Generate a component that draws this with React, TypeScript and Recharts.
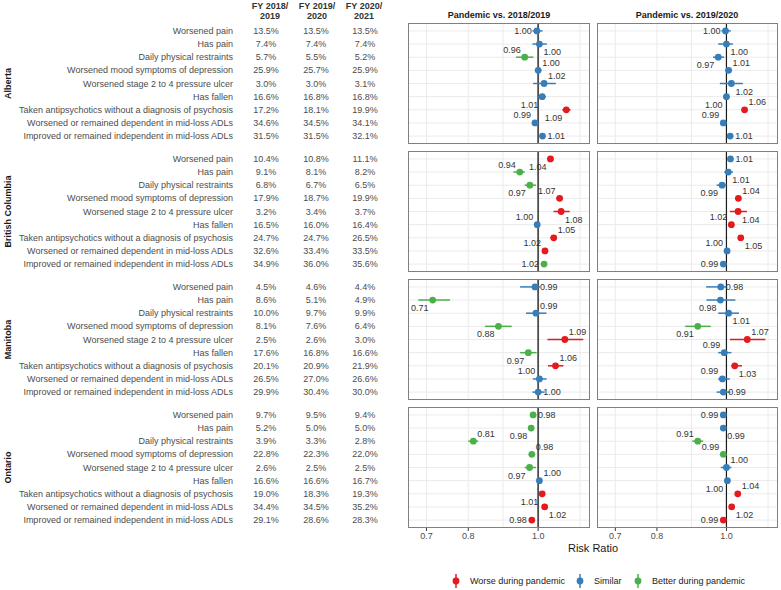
import React from 'react';
import { ScatterChart, Scatter, XAxis, YAxis, ErrorBar, ReferenceLine, CartesianGrid } from 'recharts';

const INDICATORS = [
  'Worsened pain',
  'Has pain',
  'Daily physical restraints',
  'Worsened mood symptoms of depression',
  'Worsened stage 2 to 4 pressure ulcer',
  'Has fallen',
  'Taken antipsychotics without a diagnosis of psychosis',
  'Worsened or remained dependent in mid-loss ADLs',
  'Improved or remained independent in mid-loss ADLs',
];
const PROVINCES = ['Alberta', 'British Columbia', 'Manitoba', 'Ontario'];
const YEAR_HEADS = [['FY 2018/', '2019'], ['FY 2019/', '2020'], ['FY 2020/', '2021']];
const PANEL_TITLES = ['Pandemic vs. 2018/2019', 'Pandemic vs. 2019/2020'];
const X_TICKS = [0.7, 0.8, 1.0];
const GRID_X = [0.7, 0.748, 0.8, 0.894, 1.0, 1.069, 1.143];

// indicator rates (%), per fiscal year
const AB_RATES = [[13.5, 13.5, 13.5], [7.4, 7.4, 7.4], [5.7, 5.5, 5.2], [25.9, 25.7, 25.9], [3.0, 3.0, 3.1], [16.6, 16.8, 16.8], [17.2, 18.1, 19.9], [34.6, 34.5, 34.1], [31.5, 31.5, 32.1]];
const BC_RATES = [[10.4, 10.8, 11.1], [9.1, 8.1, 8.2], [6.8, 6.7, 6.5], [17.9, 18.7, 19.9], [3.2, 3.4, 3.7], [16.5, 16.0, 16.4], [24.7, 24.7, 26.5], [32.6, 33.4, 33.5], [34.9, 36.0, 35.6]];
const MB_RATES = [[4.5, 4.6, 4.4], [8.6, 5.1, 4.9], [10.0, 9.7, 9.9], [8.1, 7.6, 6.4], [2.5, 2.6, 3.0], [17.6, 16.8, 16.6], [20.1, 20.9, 21.9], [26.5, 27.0, 26.6], [29.9, 30.4, 30.0]];
const ON_RATES = [[9.7, 9.5, 9.4], [5.2, 5.0, 5.0], [3.9, 3.3, 2.8], [22.8, 22.3, 22.0], [2.6, 2.5, 2.5], [16.6, 16.6, 16.7], [19.0, 18.3, 19.3], [34.4, 34.5, 35.2], [29.1, 28.6, 28.3]];

// risk ratio: [estimate, ci low, ci high, W=worse / S=similar / B=better]
const AB_18 = [[0.996, 0.982, 1.014, 'S'], [1.004, 0.982, 1.028, 'S'], [0.958, 0.932, 0.985, 'B'], [1.0, 0.99, 1.01, 'S'], [1.019, 0.984, 1.058, 'S'], [1.013, 0.998, 1.025, 'S'], [1.094, 1.08, 1.109, 'W'], [0.99, 0.98, 1.0, 'S'], [1.014, 1.005, 1.022, 'S']];
const AB_19 = [[0.997, 0.984, 1.014, 'S'], [1.0, 0.974, 1.021, 'S'], [0.974, 0.958, 0.993, 'S'], [1.007, 0.997, 1.017, 'S'], [1.016, 0.979, 1.054, 'S'], [1.0, 0.99, 1.01, 'S'], [1.06, 1.05, 1.07, 'W'], [0.99, 0.98, 1.0, 'S'], [1.012, 1.004, 1.02, 'S']];
const BC_18 = [[1.04, 1.03, 1.05, 'W'], [0.943, 0.924, 0.958, 'B'], [0.974, 0.958, 0.993, 'B'], [1.071, 1.06, 1.08, 'W'], [1.076, 1.05, 1.106, 'W'], [0.997, 0.99, 1.005, 'S'], [1.051, 1.04, 1.06, 'W'], [1.022, 1.015, 1.03, 'W'], [1.019, 1.012, 1.026, 'B']];
const BC_19 = [[1.013, 1.005, 1.02, 'S'], [1.006, 0.993, 1.021, 'S'], [0.986, 0.969, 1.0, 'S'], [1.039, 1.03, 1.048, 'W'], [1.038, 1.011, 1.068, 'W'], [1.016, 1.01, 1.022, 'W'], [1.047, 1.038, 1.056, 'W'], [1.002, 0.995, 1.01, 'S'], [0.99, 0.985, 0.996, 'S']];
const MB_18 = [[0.99, 0.944, 1.006, 'S'], [0.714, 0.682, 0.755, 'B'], [0.993, 0.962, 1.027, 'S'], [0.881, 0.844, 0.919, 'B'], [1.089, 1.03, 1.155, 'W'], [0.969, 0.944, 0.995, 'B'], [1.057, 1.032, 1.084, 'W'], [1.004, 0.983, 1.027, 'S'], [1.0, 0.982, 1.021, 'S']];
const MB_19 = [[0.982, 0.937, 1.0, 'S'], [0.981, 0.938, 1.029, 'S'], [1.007, 0.974, 1.041, 'S'], [0.912, 0.876, 0.951, 'B'], [1.069, 1.011, 1.133, 'W'], [0.993, 0.974, 1.016, 'S'], [1.027, 1.016, 1.051, 'W'], [0.987, 0.974, 1.011, 'S'], [0.99, 0.969, 1.013, 'S']];
const ON_18 = [[0.984, 0.978, 0.99, 'B'], [0.978, 0.97, 0.986, 'B'], [0.813, 0.8, 0.826, 'B'], [0.98, 0.975, 0.986, 'B'], [0.973, 0.958, 0.993, 'B'], [1.004, 0.998, 1.01, 'S'], [1.013, 1.007, 1.019, 'W'], [1.021, 1.016, 1.026, 'W'], [0.98, 0.975, 0.985, 'W']];
const ON_19 = [[0.99, 0.985, 0.995, 'S'], [0.99, 0.984, 0.996, 'S'], [0.912, 0.896, 0.928, 'B'], [0.99, 0.985, 0.995, 'B'], [1.0, 0.982, 1.016, 'S'], [1.003, 0.997, 1.008, 'S'], [1.037, 1.03, 1.044, 'W'], [1.017, 1.012, 1.022, 'W'], [0.99, 0.985, 0.995, 'W']];

// where each value label sits relative to its point (l/r, above/below)
const SPOTS = {
  AB_18: 'l br al ar ar bl bl al r', AB_19: 'l br bl ar br bl ar al r',
  BC_18: 'bl al bl al br al ar al l', BC_19: 'r br bl ar br al br al l',
  MB_18: 'r bl ar bl ar bl ar al r', MB_19: 'r bl br bl ar al br al r',
  ON_18: 'r bl ar ar bl ar bl br l', ON_19: 'l br al al ar bl ar br l',
};

const COLORS: Record<string, string> = { W: '#E41A1C', S: '#377EB8', B: '#4DAF4A' };
const LEGEND = [['W', 'Worse during pandemic'], ['S', 'Similar'], ['B', 'Better during pandemic']];
const FONT = '"Liberation Sans", Arial, Helvetica, sans-serif';
const PANEL_TOPS = [23, 151, 279, 407];
const PANEL_H = 121;
const AXIS_H = 20;
const TABLE_W = 408;
const ROWS = [0, 1, 2, 3, 4, 5, 6, 7, 8];

const labelPos = (spot: string, cx: number, cy: number) => {
  switch (spot) {
    case 'l': return { x: cx - 5, y: cy, a: 'end' };
    case 'r': return { x: cx + 5, y: cy, a: 'start' };
    case 'al': return { x: cx - 4, y: cy - 7.5, a: 'end' };
    case 'ar': return { x: cx + 4, y: cy - 7.5, a: 'start' };
    case 'bl': return { x: cx - 4, y: cy + 8, a: 'end' };
    default: return { x: cx + 4, y: cy + 8, a: 'start' };
  }
};

const makeShape = (color: string) => (props: any) => {
  const { cx, cy, payload } = props;
  const p = labelPos(payload.spot, cx, cy);
  return (
    <g>
      <circle cx={cx} cy={cy} r={3.4} fill={color} />
      <text x={p.x} y={p.y} textAnchor={p.a} dominantBaseline="central" fontSize={9} fill="#333" fontFamily={FONT}>
        {payload.x.toFixed(2)}
      </text>
    </g>
  );
};

const TableTick = (props: any) => {
  const { y, payload, rates, province } = props;
  const i = payload.value;
  return (
    <g fontFamily={FONT} fontSize={9} fill="#4d4d4d">
      <text x={233} y={y} textAnchor="end" dominantBaseline="central">{INDICATORS[i]}</text>
      {[266, 316, 365].map((cx, k) => (
        <text key={k} x={cx} y={y} textAnchor="middle" dominantBaseline="central">{rates[i][k].toFixed(1)}%</text>
      ))}
      {i === 4 && (
        <text x={8} y={y} transform={`rotate(-90 8 ${y})`} textAnchor="middle" dominantBaseline="central"
          fontWeight="bold" fill="#1a1a1a">{province}</text>
      )}
    </g>
  );
};

const Panel = ({ rows, spots, top, left, rates, province, showAxis, refColor, refWidth }: any) => {
  const table = !!rates;
  const sp = spots.split(' ');
  const points = rows.map((r: any[], i: number) => ({
    x: r[0], y: i, err: [r[0] - r[1], r[2] - r[0]], dir: r[3], spot: sp[i],
  }));
  const w = table ? 590 : 181;
  const h = PANEL_H + (showAxis ? AXIS_H : 0);
  const plotLeft = table ? TABLE_W : 0;
  return (
    <div style={{ position: 'absolute', left, top, width: w, height: h }}>
      <ScatterChart width={w} height={h} margin={{ top: 0, right: 0, bottom: 0, left: 0 }}>
        <CartesianGrid verticalValues={GRID_X} horizontalValues={ROWS} stroke="#ebebeb" strokeWidth={1} />
        <XAxis type="number" dataKey="x" scale="log" domain={[0.66, 1.18]} allowDataOverflow ticks={X_TICKS}
          hide={!showAxis} height={AXIS_H} axisLine={false} tickSize={3} tickLine={{ stroke: '#333' }}
          tick={{ fontSize: 9, fill: '#4d4d4d', fontFamily: FONT }} tickFormatter={(v: number) => v.toFixed(1)} />
        <YAxis type="number" dataKey="y" domain={[-0.6, 8.6]} allowDataOverflow reversed ticks={ROWS} interval={0}
          hide={!table} width={TABLE_W} axisLine={false} tickLine={false}
          tick={(p: any) => <TableTick {...p} rates={rates} province={province} />} />
        <ReferenceLine x={1} stroke={refColor} strokeWidth={refWidth} />
        {['W', 'S', 'B'].map((d) => (
          <Scatter key={d} data={points.filter((p: any) => p.dir === d)} isAnimationActive={false} shape={makeShape(COLORS[d])}>
            <ErrorBar dataKey="err" direction="x" width={0} strokeWidth={1.5} stroke={COLORS[d]} />
          </Scatter>
        ))}
      </ScatterChart>
      <div style={{
        position: 'absolute', left: plotLeft, top: 0, width: w - plotLeft, height: PANEL_H,
        border: '1px solid #808080', boxSizing: 'border-box', pointerEvents: 'none',
      }} />
    </div>
  );
};

const PANELS = [
  [AB_18, AB_19, AB_RATES, SPOTS.AB_18, SPOTS.AB_19],
  [BC_18, BC_19, BC_RATES, SPOTS.BC_18, SPOTS.BC_19],
  [MB_18, MB_19, MB_RATES, SPOTS.MB_18, SPOTS.MB_19],
  [ON_18, ON_19, ON_RATES, SPOTS.ON_18, SPOTS.ON_19],
];

export default function App() {
  return (
    <div style={{ position: 'absolute', left: 0, top: 0, width: 781, height: 590, background: '#fff', fontFamily: FONT }}>
      <svg width={781} height={590} style={{ position: 'absolute', left: 0, top: 0 }} fontFamily={FONT}>
        {YEAR_HEADS.map((hd, k) => (
          <g key={k} fontSize={9} fontWeight="bold" fill="#333" textAnchor="middle">
            <text x={[270, 317, 364][k]} y={6} dominantBaseline="central">{hd[0]}</text>
            <text x={[270, 317, 364][k]} y={16} dominantBaseline="central">{hd[1]}</text>
          </g>
        ))}
        {PANEL_TITLES.map((t, k) => (
          <text key={t} x={[499, 687][k]} y={15} textAnchor="middle" dominantBaseline="central" fontSize={9}
            fontWeight="bold" fill="#1a1a1a">{t}</text>
        ))}
        <text x={593} y={548} textAnchor="middle" dominantBaseline="central" fontSize={11} fill="#1a1a1a">Risk Ratio</text>
        {LEGEND.map(([d, name], k) => {
          const x = [456, 580, 638][k];
          return (
            <g key={d}>
              <line x1={x} x2={x} y1={574} y2={588} stroke={COLORS[d]} strokeWidth={1.5} />
              <circle cx={x} cy={581} r={3.4} fill={COLORS[d]} />
              <text x={x + 14} y={581} dominantBaseline="central" fontSize={9} fill="#1a1a1a">{name}</text>
            </g>
          );
        })}
      </svg>
      {PANELS.map((pn, i) => (
        <React.Fragment key={PROVINCES[i]}>
          <Panel rows={pn[0]} spots={pn[3]} rates={pn[2]} province={PROVINCES[i]} top={PANEL_TOPS[i]} left={0}
            showAxis={i === 3} refColor="#4d4d4d" refWidth={1.8} />
          <Panel rows={pn[1]} spots={pn[4]} top={PANEL_TOPS[i]} left={597}
            showAxis={i === 3} refColor="#1a1a1a" refWidth={1.2} />
        </React.Fragment>
      ))}
    </div>
  );
}
